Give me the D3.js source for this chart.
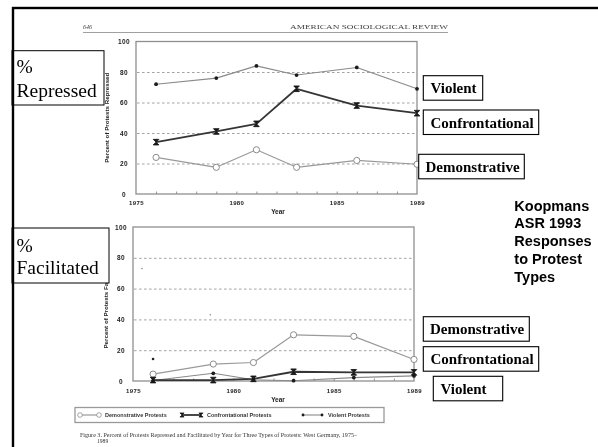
<!DOCTYPE html>
<html>
<head>
<meta charset="utf-8">
<script src="https://cdn.jsdelivr.net/npm/d3@7"></script>
<style>
  html, body { margin: 0; padding: 0; background: #fff; }
  svg { display: block; }
</style>
</head>
<body>
<svg id="chart" width="598" height="447"></svg>
<script>
// Survey years and percentages per protest type
const years = [1976, 1979, 1981, 1983, 1986, 1989];

const repressedDemonstrative   = [24, 17.5, 29, 17.5, 22, 19.5];
const repressedConfrontational = [34, 41, 46, 69, 58, 53];
const repressedViolent         = [72, 76, 84, 78, 83, 69];

const facilitatedDemonstrative   = [4.5, 11, 12, 30, 29, 14];
const facilitatedConfrontational = [0.6, 0.6, 1.4, 6, 5.6, 5.6];
const facilitatedViolent         = [0.3, 5, 0.8, 0.2, 2.2, 3.3];

// loose specks printed in the lower panel
const speckYears  = [1976, 1978.85, 1975.45];
const speckValues = [14.3, 43, 73];

const yTicks = [0, 20, 40, 60, 80, 100];
const gridTicks = [20, 40, 60, 80];
const xTickLabels = [1975, 1980, 1985, 1989];
const minorTickYears = [1976, 1977, 1978, 1979, 1980, 1981, 1982, 1983, 1984, 1985, 1986, 1987, 1988];

const seriesNames = ["Demonstrative", "Violent", "Confrontational"];
const legendLabels = ["Demonstrative Protests", "Confrontational Protests", "Violent Protests"];
const legendKeys = ["Demonstrative", "Confrontational", "Violent"];
const sideNote = ["Koopmans", "ASR 1993", "Responses", "to Protest", "Types"];
const captionLines = [
  "Figure 3.  Percent of Protests Repressed and Facilitated by Year for Three Types of Protests: West Germany, 1975\u2013",
  "1989"
];

const svg = d3.select("#chart");

// soft print look for the scanned page
const defs = svg.append("defs");
defs.append("filter").attr("id", "soft")
  .append("feGaussianBlur").attr("stdDeviation", 0.35);

const page = svg.append("g").attr("filter", "url(#soft)");

// running head
page.append("text").attr("x", 83).attr("y", 29)
  .attr("font-family", "Liberation Serif").attr("font-style", "italic")
  .attr("font-size", 6).attr("fill", "#444").text("646");
page.append("text").attr("x", 290).attr("y", 29)
  .attr("font-family", "Liberation Serif").attr("font-size", 6.5)
  .attr("textLength", 158).attr("lengthAdjust", "spacingAndGlyphs")
  .attr("fill", "#444").text("AMERICAN SOCIOLOGICAL REVIEW");
page.append("line").attr("x1", 83).attr("x2", 448).attr("y1", 32.5).attr("y2", 32.5)
  .attr("stroke", "#888").attr("stroke-width", 0.8);

const styles = {
  Demonstrative:   { stroke: "#9a9a9a", width: 1.2 },
  Violent:         { stroke: "#8a8a8a", width: 1.1 },
  Confrontational: { stroke: "#353535", width: 1.8 }
};

function drawMarker(sel, name) {
  if (name === "Demonstrative") {
    sel.append("circle").attr("r", 3.1).attr("fill", "#fff")
      .attr("stroke", "#8a8a8a").attr("stroke-width", 1);
  } else if (name === "Violent") {
    sel.append("circle").attr("r", 1.9).attr("fill", "#1a1a1a");
  } else {
    // hourglass-shaped cross
    sel.append("path").attr("d", "M-2.8,-2.8L2.8,-2.8L-2.8,2.8L2.8,2.8Z")
      .attr("fill", "#1a1a1a").attr("stroke", "#1a1a1a").attr("stroke-width", 0.9)
      .attr("stroke-linejoin", "round");
  }
}

const panels = [
  {
    x0: 136, x1: 417, y0: 41.5, y1: 194,
    series: { Demonstrative: repressedDemonstrative, Confrontational: repressedConfrontational, Violent: repressedViolent },
    title: "Percent of Protests Repressed", titleX: 108.5,
    tickLabelY: 204.5, yearY: 214, yearX: 278,
    specks: false
  },
  {
    x0: 133, x1: 414, y0: 227, y1: 381,
    series: { Demonstrative: facilitatedDemonstrative, Confrontational: facilitatedConfrontational, Violent: facilitatedViolent },
    title: "Percent of Protests Facilitated", titleX: 108,
    tickLabelY: 393, yearY: 402, yearX: 278,
    specks: true
  }
];

panels.forEach(p => {
  const x = d3.scaleLinear().domain([1975, 1989]).range([p.x0, p.x1]);
  const y = d3.scaleLinear().domain([0, 100]).range([p.y1, p.y0]);
  const g = page.append("g");

  // dashed reference lines
  const grid = g.append("g").attr("transform", `translate(${p.x0},0)`)
    .call(d3.axisLeft(y).tickValues(gridTicks).tickSize(-(p.x1 - p.x0 - 2)).tickFormat(""));
  grid.select(".domain").remove();
  grid.selectAll("line").attr("stroke", "#9a9a9a").attr("stroke-width", 0.9)
    .attr("stroke-dasharray", "2.6,2.4").attr("transform", "translate(1,0)");

  // yearly ticks on the baseline
  const minor = g.append("g").attr("transform", `translate(0,${p.y1})`)
    .call(d3.axisBottom(x).tickValues(minorTickYears).tickSize(-2.5).tickFormat(""));
  minor.select(".domain").remove();
  minor.selectAll("line").attr("stroke", "#777").attr("stroke-width", 0.8);

  // plot frame
  g.append("rect").attr("x", p.x0).attr("y", p.y0)
    .attr("width", p.x1 - p.x0).attr("height", p.y1 - p.y0)
    .attr("fill", "none").attr("stroke", "#8f8f8f").attr("stroke-width", 1.3);

  // y tick labels
  const ya = g.append("g").attr("transform", `translate(${p.x0 - 7},0)`)
    .call(d3.axisLeft(y).tickValues(yTicks).tickSize(0).tickPadding(0));
  ya.select(".domain").remove();
  ya.selectAll("text").attr("font-family", "Liberation Sans").attr("font-weight", "bold")
    .attr("font-size", 6.5).attr("fill", "#222").attr("letter-spacing", 0.4)
    .attr("text-anchor", "middle").attr("x", -5).attr("dy", "0.33em");

  // x tick labels
  const xa = g.append("g").attr("transform", `translate(0,${p.tickLabelY})`)
    .call(d3.axisBottom(x).tickValues(xTickLabels).tickSize(0).tickPadding(0).tickFormat(d3.format("d")));
  xa.select(".domain").remove();
  xa.selectAll("text").attr("font-family", "Liberation Sans").attr("font-weight", "bold")
    .attr("font-size", 6).attr("fill", "#222").attr("letter-spacing", 0.4).attr("dy", "0");

  g.append("text").attr("x", p.yearX).attr("y", p.yearY).attr("text-anchor", "middle")
    .attr("font-family", "Liberation Sans").attr("font-weight", "bold")
    .attr("font-size", 6.5).attr("fill", "#222").text("Year");

  // axis title
  g.append("text")
    .attr("transform", `translate(${p.titleX},${(p.y0 + p.y1) / 2}) rotate(-90)`)
    .attr("text-anchor", "middle")
    .attr("font-family", "Liberation Sans").attr("font-weight", "bold")
    .attr("font-size", 6.2).attr("fill", "#222").text(p.title);

  if (p.specks) {
    g.selectAll("circle.speck").data(speckYears).join("circle").attr("class", "speck")
      .attr("cx", (d, i) => x(d)).attr("cy", (d, i) => y(speckValues[i]))
      .attr("r", (d, i) => i === 0 ? 1.3 : 0.8)
      .attr("fill", (d, i) => i === 0 ? "#222" : "#888");
  }

  const line = d3.line().x((d, i) => x(years[i])).y(d => y(d));
  seriesNames.forEach(name => {
    const vals = p.series[name];
    g.append("path").datum(vals).attr("d", line).attr("fill", "none")
      .attr("stroke", styles[name].stroke).attr("stroke-width", styles[name].width)
      .attr("stroke-linejoin", "round");
  });
  seriesNames.forEach(name => {
    const vals = p.series[name];
    vals.forEach((v, i) => {
      const m = g.append("g").attr("transform", `translate(${x(years[i])},${y(v)})`);
      drawMarker(m, name);
    });
  });
});

// legend
const leg = page.append("g");
leg.append("rect").attr("x", 75).attr("y", 407.5).attr("width", 309).attr("height", 15)
  .attr("fill", "none").attr("stroke", "#999").attr("stroke-width", 1.3);
const legX = [80, 182, 303];
legendKeys.forEach((k, i) => {
  const lg = leg.append("g").attr("transform", `translate(${legX[i]},415)`);
  lg.append("line").attr("x1", 0).attr("x2", 19).attr("stroke", styles[k].stroke)
    .attr("stroke-width", styles[k].width);
  [0, 19].forEach(px => {
    const m = lg.append("g").attr("transform", `translate(${px},0) scale(0.75)`);
    drawMarker(m, k);
  });
  lg.append("text").attr("x", 25).attr("y", 2)
    .attr("font-family", "Liberation Sans").attr("font-weight", "bold")
    .attr("font-size", 5.5).attr("fill", "#333").text(legendLabels[i]);
});

// caption
page.append("text").attr("x", 80).attr("y", 437)
  .attr("font-family", "Liberation Serif").attr("font-size", 5.6)
  .attr("textLength", 277).attr("lengthAdjust", "spacingAndGlyphs")
  .attr("fill", "#333").text(captionLines[0]);
page.append("text").attr("x", 97).attr("y", 442.5)
  .attr("font-family", "Liberation Serif").attr("font-size", 5.6)
  .attr("fill", "#333").text(captionLines[1]);

// slide overlay: section tags
const tags = [
  { lines: ["%", "Repressed"], x: 12, y: 50.7, w: 92, h: 54.3, base: [72.5, 96.7] },
  { lines: ["%", "Facilitated"], x: 12, y: 228, w: 97, h: 55, base: [251.7, 274.3] }
];
tags.forEach(t => {
  svg.append("rect").attr("x", t.x).attr("y", t.y).attr("width", t.w).attr("height", t.h)
    .attr("fill", "#fff").attr("stroke", "#000").attr("stroke-width", 1);
  t.lines.forEach((s, i) => {
    svg.append("text").attr("x", t.x + 4.5).attr("y", t.base[i])
      .attr("font-family", "Liberation Serif").attr("font-size", 19.5)
      .attr("fill", "#000").text(s);
  });
});

// slide overlay: series name boxes
const nameBoxes = [
  { text: "Violent",         x: 423.3, y: 75.7,  w: 59.4,  tx: 430.5 },
  { text: "Confrontational", x: 423.3, y: 110,   w: 115.4, tx: 430.5 },
  { text: "Demonstrative",   x: 418.7, y: 154.3, w: 105.6, tx: 425.5 },
  { text: "Demonstrative",   x: 423.3, y: 316.7, w: 106,   tx: 430 },
  { text: "Confrontational", x: 423.3, y: 346.7, w: 115.4, tx: 430.5 },
  { text: "Violent",         x: 433.3, y: 376.3, w: 69.4,  tx: 440.5 }
];
nameBoxes.forEach(b => {
  svg.append("rect").attr("x", b.x).attr("y", b.y).attr("width", b.w).attr("height", 24.5)
    .attr("fill", "#fff").attr("stroke", "#000").attr("stroke-width", 1.1);
  svg.append("text").attr("x", b.tx).attr("y", b.y + 17.6)
    .attr("font-family", "Liberation Serif").attr("font-weight", "bold")
    .attr("font-size", 15).attr("fill", "#000").text(b.text);
});

// side note
svg.append("text").attr("font-family", "Liberation Sans").attr("font-weight", "bold")
  .attr("font-size", 14.5).attr("fill", "#000")
  .selectAll("tspan").data(sideNote).join("tspan")
  .attr("x", 514.3).attr("y", (d, i) => 210.7 + i * 17.75).text(d => d);

// slide frame
svg.append("rect").attr("x", 13).attr("y", 8).attr("width", 700).attr("height", 600)
  .attr("fill", "none").attr("stroke", "#000").attr("stroke-width", 2.4);
</script>
</body>
</html>
